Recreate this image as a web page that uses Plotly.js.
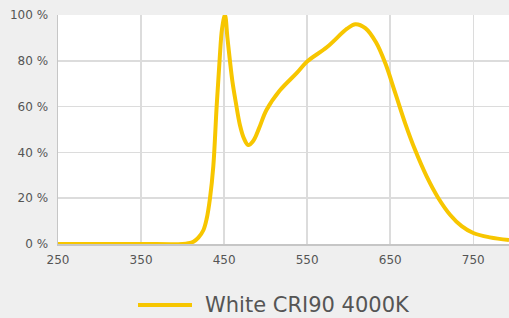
<!DOCTYPE html>
<html>
<head>
<meta charset="utf-8">
<script src="https://cdn.plot.ly/plotly-3.0.1.min.js"></script>
<style>html,body{margin:0;padding:0;background:#efefef;}#chart{width:509px;height:318px;}</style>
</head>
<body>
<div id="chart"></div>
<script>
const seriesName = "White CRI90 4000K";
const wavelength = [250, 300, 350, 400, 407, 413, 419, 425, 429, 433, 437, 441, 444.5, 447.5, 451, 454, 457, 460, 464, 469, 474, 479, 485, 492, 501, 517, 537, 550, 574, 598, 608, 620, 633, 644, 656, 668, 680, 694, 708, 722, 736, 750, 770, 793];
const intensity  = [0, 0, 0, 0, 0.3, 1, 2.8, 6, 11, 20, 34, 60, 80, 94, 100, 90, 80, 71, 62, 52, 46, 43.2, 45, 50.5, 58.5, 67, 74.5, 79.7, 86, 94, 96, 94.3, 88, 79, 66, 52.7, 41, 29.4, 20, 12.8, 7.8, 4.8, 2.9, 1.7];
const xTicks = [250, 350, 450, 550, 650, 750];
const yTicks = [0, 20, 40, 60, 80, 100];
const yTickText = yTicks.map(v => v + ' %');

const lineColor = '#f7c600';
const trace = {
  x: wavelength, y: intensity, type: 'scatter', mode: 'lines', name: seriesName,
  showlegend: false,
  line: {color: lineColor, width: 4, shape: 'spline', smoothing: 1}
};
const layout = {
  width: 509, height: 318,
  paper_bgcolor: '#efefef', plot_bgcolor: '#ffffff',
  margin: {l: 58, r: 0, t: 15, b: 74},
  font: {family: 'DejaVu Sans, sans-serif', size: 12, color: '#555'},
  xaxis: {range: [250, 793], tickvals: xTicks, ticktext: xTicks.map(String),
    showgrid: true, gridcolor: '#dcdcdc', gridwidth: 1.5, zeroline: false,
    showline: true, linecolor: '#c6c6c6', linewidth: 1.5, ticks: '',
    ticklabelstandoff: 4, automargin: false,
    tickfont: {size: 12, color: '#555'}},
  yaxis: {range: [0, 100], tickvals: yTicks, ticktext: yTickText,
    showgrid: true, gridcolor: '#dcdcdc', gridwidth: 1.5, zeroline: false,
    showline: true, linecolor: '#c6c6c6', linewidth: 1.5, ticks: '',
    ticklabelstandoff: 6, automargin: false,
    tickfont: {size: 12, color: '#555'}},
  showlegend: false,
  shapes: [{type: 'line', xref: 'paper', yref: 'paper', x0: 0.1774, x1: 0.2971, y0: -0.2664, y1: -0.2664,
    line: {color: lineColor, width: 4}}],
  annotations: [{text: seriesName, xref: 'paper', yref: 'paper', x: 0.3215, y: -0.2664,
    xanchor: 'left', yanchor: 'middle', showarrow: false,
    font: {family: 'DejaVu Sans, sans-serif', size: 21, color: '#555'}}]
};
Plotly.newPlot('chart', [trace], layout, {displayModeBar: false, staticPlot: true});
</script>
</body>
</html>
